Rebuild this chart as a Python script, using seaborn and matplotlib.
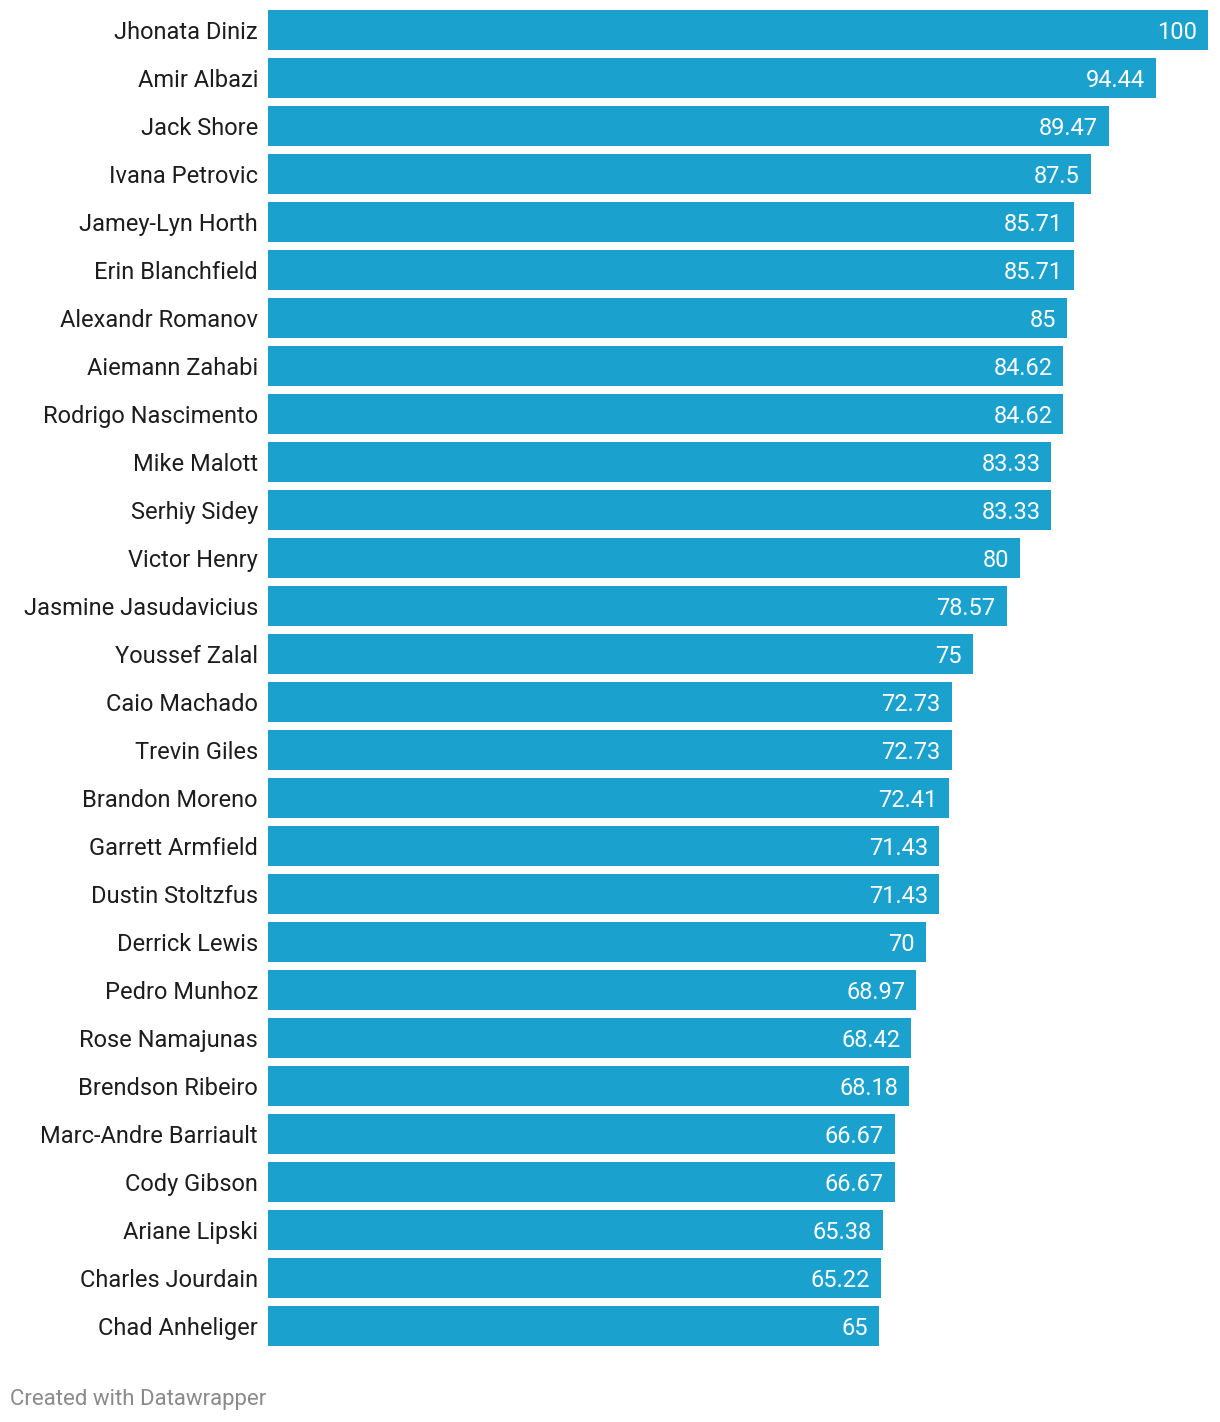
import matplotlib
matplotlib.use("Agg")
import matplotlib.pyplot as plt
import seaborn as sns
import pandas as pd

names = ["Jhonata Diniz", "Amir Albazi", "Jack Shore", "Ivana Petrovic", "Jamey-Lyn Horth",
         "Erin Blanchfield", "Alexandr Romanov", "Aiemann Zahabi", "Rodrigo Nascimento",
         "Mike Malott", "Serhiy Sidey", "Victor Henry", "Jasmine Jasudavicius", "Youssef Zalal",
         "Caio Machado", "Trevin Giles", "Brandon Moreno", "Garrett Armfield", "Dustin Stoltzfus",
         "Derrick Lewis", "Pedro Munhoz", "Rose Namajunas", "Brendson Ribeiro",
         "Marc-Andre Barriault", "Cody Gibson", "Ariane Lipski", "Charles Jourdain", "Chad Anheliger"]
values = [100, 94.44, 89.47, 87.5, 85.71, 85.71, 85, 84.62, 84.62, 83.33, 83.33, 80, 78.57, 75,
          72.73, 72.73, 72.41, 71.43, 71.43, 70, 68.97, 68.42, 68.18, 66.67, 66.67, 65.38, 65.22, 65]
value_labels = ["100", "94.44", "89.47", "87.5", "85.71", "85.71", "85", "84.62", "84.62", "83.33",
                "83.33", "80", "78.57", "75", "72.73", "72.73", "72.41", "71.43", "71.43", "70",
                "68.97", "68.42", "68.18", "66.67", "66.67", "65.38", "65.22", "65"]

df = pd.DataFrame({"name": names, "value": values})

sns.set_theme(style="white")
plt.rcParams['font.family'] = ['Roboto', 'DejaVu Sans']

W, H = 1220, 1422
fig = plt.figure(figsize=(W / 100, H / 100), dpi=100)
ax = fig.add_axes([268 / W, 1 - 1350 / H, 940 / W, 1344 / H])

sns.barplot(data=df, x="value", y="name", color="#1aa1cd", saturation=1, width=40 / 48,
            linewidth=0, ax=ax)
ax.set_xlim(0, 100)
ax.set_ylim(len(names) - 0.5, -0.5)
ax.set_xlabel("")
ax.set_ylabel("")
ax.set_xticks([])
ax.tick_params(axis="y", length=0, pad=7.2, labelsize=17, labelcolor="#1d1d1d")
for s in ax.spines.values():
    s.set_visible(False)

pad = 11 / 940 * 100
for i, (v, lab) in enumerate(zip(values, value_labels)):
    ax.text(v - pad, i, lab, ha="right", va="center_baseline", color="white", fontsize=17)

fig.text(10 / W, 1 - 1399 / H, "Created with Datawrapper", ha="left", va="center",
         color="#8a8a8a", fontsize=16)

fig.savefig("out.png", dpi=100)
